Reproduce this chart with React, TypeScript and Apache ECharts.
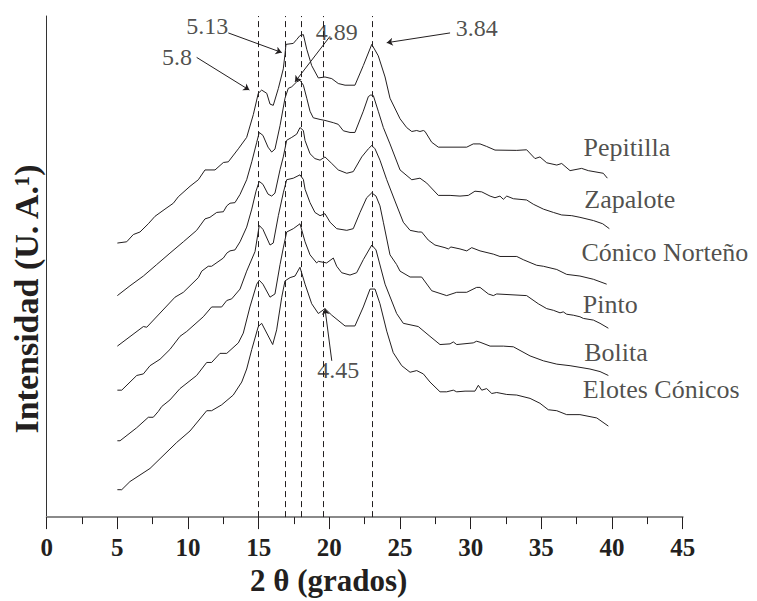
import React, { useEffect, useRef } from "react";
import * as echarts from "echarts";

// 2θ (degrees) vs intensity (arbitrary units, traces stacked with offsets)
const pepitilla: [number, number][] = [
  [5.0, 280], [5.66, 281.3], [6.13, 288.7], [6.6, 291.3], [7.19, 299.7], [7.66, 307.3], [8.37, 314.7],
  [8.96, 320.7], [9.31, 327.3], [10.14, 338], [10.73, 344.7], [11.2, 354.7], [11.91, 354.7], [12.5, 362.3],
  [12.85, 363], [13.56, 376.3], [14.15, 388], [14.62, 411.3], [14.97, 433], [15.21, 436.3], [15.57, 433],
  [15.8, 422], [16.03, 420.7], [16.39, 438], [16.74, 458], [16.86, 473], [16.93, 483], [17.45, 484],
  [17.69, 488], [17.92, 492], [18.16, 493], [18.4, 478], [18.75, 461.3], [19.22, 448.7], [19.69, 449.7],
  [20.17, 448], [20.63, 443], [21.11, 441.3], [21.81, 441.3], [22.4, 461.3], [23.0, 483], [23.46, 471.3],
  [23.94, 449.7], [24.29, 428], [25.0, 407], [25.47, 398], [25.83, 394], [26.18, 395], [26.41, 394],
  [26.65, 395], [26.77, 394], [27.24, 383], [27.71, 378], [29.72, 378], [30.18, 381.3], [30.66, 381.3],
  [31.13, 378.7], [31.72, 375], [33.26, 374.7], [33.96, 375.3], [34.55, 366.3], [34.9, 368], [35.38, 362],
  [36.09, 359.7], [36.44, 361.3], [37.03, 354], [37.85, 356.3], [38.32, 354], [39.38, 351.3], [39.67, 346.3],
];
const zapalote: [number, number][] = [
  [5.0, 226.3], [5.89, 236.3], [6.84, 246.3], [7.78, 258], [8.72, 269.7], [9.67, 281.3], [10.61, 293],
  [11.2, 304.7], [11.55, 306.3], [12.03, 311.3], [12.5, 312], [12.74, 318], [12.97, 320.7], [13.32, 321.3],
  [13.68, 329.7], [14.15, 344.7], [14.51, 363], [14.86, 383], [15.04, 393], [15.3, 390], [15.66, 378],
  [15.92, 373], [16.15, 376], [16.51, 400], [16.86, 428], [17.09, 438], [17.34, 439.7], [17.69, 444.7],
  [17.92, 446.3], [18.16, 441.3], [18.4, 428], [18.63, 414.7], [18.86, 408], [19.34, 406.3], [19.69, 405.3],
  [20.28, 403], [20.63, 401.3], [20.99, 394.7], [21.46, 393], [21.81, 393], [22.4, 414.7], [22.76, 429.7],
  [22.93, 431.3], [23.11, 430.7], [23.46, 414.7], [23.82, 398], [24.29, 381.3], [25.0, 354.7], [25.83, 344.7],
  [26.41, 346.3], [26.89, 341.3], [27.71, 328.7], [28.54, 328.7], [29.24, 328], [29.83, 328.7], [30.3, 333],
  [30.78, 332.3], [31.37, 328], [31.72, 326.3], [32.07, 328], [32.31, 324.7], [32.55, 328], [33.02, 325.3],
  [33.96, 324], [34.43, 319.7], [35.14, 314.7], [35.85, 311.3], [36.44, 308.7], [37.15, 308], [37.73, 306.3],
  [38.68, 303], [39.34, 299.7], [39.81, 294.7],
];
const conicoNorteno: [number, number][] = [
  [5.0, 174.7], [6.84, 194.7], [7.08, 194], [9.08, 224.7], [9.67, 229.7], [10.73, 244.7], [10.97, 251.3],
  [11.43, 256.3], [11.67, 256.3], [12.5, 264.7], [12.74, 269.7], [12.97, 272], [13.32, 273], [13.68, 281.3],
  [14.15, 296.3], [14.51, 314.7], [14.81, 333], [15.04, 343], [15.3, 340], [15.66, 330], [15.92, 328],
  [16.15, 331], [16.51, 355], [16.74, 368], [16.98, 385], [17.34, 388], [17.69, 391.3], [17.92, 398],
  [18.16, 395], [18.28, 384.7], [18.63, 371.3], [18.98, 366.3], [19.34, 364.7], [19.69, 368], [20.17, 361.3],
  [20.63, 354.7], [21.23, 351.3], [21.69, 353], [22.29, 368], [22.76, 376.3], [23.0, 379.7], [23.23, 376.3],
  [23.58, 364.7], [24.06, 344.7], [24.64, 323], [25.23, 301.3], [25.71, 293], [26.29, 291.3], [26.53, 291.3],
  [27.0, 283], [27.47, 278], [28.18, 275.3], [28.42, 274], [28.6, 276], [29.24, 274], [29.72, 272],
  [30.07, 275.3], [30.66, 272], [31.6, 268.7], [32.07, 266.3], [33.26, 266.3], [33.72, 263], [34.67, 257.3],
  [35.14, 256.3], [36.09, 253], [36.79, 248], [37.73, 246.3], [38.68, 243], [39.62, 238],
];
const pinto: [number, number][] = [
  [5.0, 129.7], [5.31, 129.7], [6.37, 144.7], [6.84, 146.3], [7.31, 154.7], [8.02, 161.3], [8.72, 171.3],
  [9.43, 184.7], [9.91, 189.7], [11.08, 204.7], [11.67, 214.7], [12.38, 214.7], [12.74, 221.3], [13.09, 223],
  [13.68, 233], [14.15, 251.3], [14.74, 271.3], [15.04, 298], [15.3, 294], [15.8, 278], [16.03, 280],
  [16.39, 308], [16.74, 331.3], [16.98, 344.7], [17.45, 346.3], [17.92, 349.7], [18.16, 345], [18.28, 335],
  [18.63, 321.3], [18.98, 311.3], [19.34, 308], [19.69, 310], [20.05, 301.3], [20.52, 294.7], [21.23, 293],
  [21.69, 294.7], [22.17, 311.3], [22.64, 326.3], [23.0, 331.3], [23.3, 328], [23.58, 318], [23.82, 301.3],
  [24.29, 268], [24.76, 258], [25.0, 251.3], [25.71, 245.3], [26.53, 245.3], [27.24, 231.3], [28.3, 226.3],
  [29.01, 229.7], [29.72, 229.7], [30.42, 234.7], [30.66, 234.7], [31.25, 228], [31.6, 226.3], [31.84, 228],
  [33.96, 226.3], [34.78, 218], [35.38, 213], [35.85, 211.3], [36.32, 208.7], [36.55, 209.7], [36.79, 207.3],
  [37.26, 206.3], [37.73, 204.7], [37.97, 203], [38.68, 201.3], [39.15, 198], [39.74, 193],
];
const bolita: [number, number][] = [
  [5.0, 78], [5.19, 78], [6.37, 91.3], [7.19, 102], [7.54, 102], [7.9, 108], [8.14, 113], [8.72, 119.7],
  [9.43, 131.3], [10.61, 144.7], [11.32, 158], [11.67, 158], [12.26, 167.3], [12.74, 167.3], [13.56, 178],
  [13.91, 188], [14.38, 214.7], [14.86, 238], [15.04, 242], [15.3, 238], [15.8, 224.7], [16.15, 228],
  [16.51, 258], [16.74, 275], [16.98, 291.3], [17.45, 294.7], [17.92, 299.7], [18.28, 281.3], [18.63, 268],
  [19.1, 259.7], [19.22, 261.3], [19.81, 259.7], [20.28, 264.7], [20.52, 256.3], [20.87, 249.7], [21.46, 247.3],
  [21.93, 249.7], [22.4, 263], [23.0, 278], [23.3, 273], [23.94, 238], [24.76, 208], [25.23, 198],
  [26.29, 194.7], [27.12, 184.7], [27.83, 176.3], [28.54, 177], [28.77, 179], [29.01, 176.3], [30.18, 178],
  [30.42, 179.7], [30.66, 178.7], [31.37, 174.7], [32.31, 174.7], [33.02, 174], [34.2, 164.7], [35.14, 159.7],
  [36.09, 156.3], [37.03, 154.7], [38.44, 151.3], [39.15, 148.7], [39.74, 144.7],
];
const elotesConicos: [number, number][] = [
  [5.0, 28], [5.31, 28], [5.89, 36.3], [7.31, 49.7], [8.02, 59.7], [9.2, 76.3], [10.14, 88], [11.32, 108.7],
  [11.67, 108.7], [12.38, 114.7], [13.2, 124.7], [13.8, 138], [14.15, 151.3], [14.51, 171.3], [14.97, 194.7],
  [15.21, 198], [15.99, 176.3], [16.27, 191.3], [16.63, 224.7], [16.86, 241.3], [17.22, 244.7], [17.57, 246.3],
  [17.92, 255.3], [18.28, 238], [18.75, 218], [19.22, 208], [19.69, 213], [20.17, 206.3], [21.11, 195.3],
  [21.81, 195.3], [22.4, 214.7], [22.88, 233], [23.23, 233], [23.58, 218], [24.06, 190], [24.52, 168],
  [25.12, 154.7], [25.71, 148], [26.18, 149.7], [26.65, 146.3], [27.12, 138], [27.83, 128], [28.3, 128],
  [28.77, 129.7], [29.01, 128], [29.6, 128.7], [30.3, 128.7], [30.54, 134.7], [30.78, 129.7], [31.13, 131.3],
  [31.49, 126.3], [31.84, 127.3], [32.55, 125.3], [33.26, 124.7], [34.2, 121.3], [34.9, 116.3], [35.49, 109.7],
  [36.09, 108.7], [36.79, 104.7], [37.73, 104.7], [38.92, 101.3], [39.74, 93],
];

const traces = [pepitilla, zapalote, conicoNorteno, pinto, bolita, elotesConicos];

// Series names and where their labels sit (x in degrees, y in intensity units)
const seriesNames = ["Pepitilla", "Zapalote", "Cónico Norteño", "Pinto", "Bolita", "Elotes Cónicos"];
const seriesLabelPos: [number, number][] = [
  [37.95, 378], [38.0, 324], [37.8, 270.5], [37.9, 217], [38.0, 168], [37.9, 130],
];

// Reference peak positions (dashed lines), 2θ
const peakLines = [15.0, 16.9, 18.0, 19.6, 23.0];

// d-spacing annotations: label, text position, arrow start, arrow end
const annotLabels = ["5.13", "5.8", "4.89", "3.84", "4.45"];
const annotTextPos: [number, number][] = [
  [11.36, 502], [9.22, 470.5], [20.52, 495.5], [30.43, 500], [20.63, 150],
];
const annotArrowFrom: [number, number][] = [
  [12.85, 494.7], [10.61, 469.7], [20.05, 491.3], [28.54, 494.7], [20.17, 159.7],
];
const annotArrowTo: [number, number][] = [
  [16.63, 474.7], [14.34, 436.3], [17.57, 444.7], [24.06, 484.7], [19.69, 213],
];

const xTicks = { min: 0, max: 45, interval: 5 };

const INK = "#231f20";
const FONT = "'Liberation Serif', 'Times New Roman', serif";

export default function App() {
  const ref = useRef<HTMLDivElement>(null);

  useEffect(() => {
    if (!ref.current) return;
    const chart = echarts.init(ref.current, undefined, { renderer: "svg" });

    const lineSeries = traces.map((d, i) => ({
      type: "line",
      name: seriesNames[i],
      data: d,
      showSymbol: false,
      symbol: "none",
      lineStyle: { color: INK, width: 1 },
      z: 3,
      ...(i === 0
        ? {
            markLine: {
              silent: true,
              symbol: ["none", "none"],
              label: { show: false },
              lineStyle: { color: INK, width: 1, type: [6, 4] },
              data: peakLines.map((x) => ({ xAxis: x })),
            },
          }
        : {}),
    }));

    chart.setOption({
      animation: false,
      grid: { left: 46.7, right: 74.3, top: 16, bottom: 73 },
      xAxis: {
        type: "value",
        min: xTicks.min,
        max: xTicks.max,
        interval: xTicks.interval,
        name: "2 θ (grados)",
        nameLocation: "middle",
        nameGap: 43,
        nameTextStyle: {
          fontFamily: FONT,
          fontWeight: "bold",
          fontSize: 31,
          color: INK,
          padding: [0, 72, 0, 0],
        },
        axisLine: { show: true, lineStyle: { color: "#8a8a8a", width: 2 } },
        axisTick: { show: true, inside: false, length: 12, lineStyle: { color: INK, width: 1 } },
        minorTick: { show: true, splitNumber: 2, length: 7, lineStyle: { color: INK, width: 1 } },
        axisLabel: {
          fontFamily: FONT,
          fontWeight: "bold",
          fontSize: 25,
          color: INK,
          margin: 18,
        },
        splitLine: { show: false },
        minorSplitLine: { show: false },
      },
      yAxis: {
        type: "value",
        min: 0,
        max: 512,
        axisLine: { show: true, onZero: false, lineStyle: { color: "#333333", width: 1 } },
        axisTick: { show: false },
        axisLabel: { show: false },
        splitLine: { show: false },
      },
      graphic: [
        {
          type: "text",
          x: 26,
          y: 299,
          rotation: Math.PI / 2,
          style: {
            text: "Intensidad (U. A.¹)",
            fontFamily: FONT,
            fontWeight: "bold",
            fontSize: 34,
            fill: INK,
            align: "center",
            verticalAlign: "middle",
          },
        },
      ],
      series: [
        ...lineSeries,
        {
          type: "lines",
          coordinateSystem: "cartesian2d",
          polyline: false,
          silent: true,
          symbol: ["none", "arrow"],
          symbolSize: 6,
          lineStyle: { color: INK, width: 1, opacity: 1 },
          data: annotArrowFrom.map((f, i) => ({ coords: [f, annotArrowTo[i]] })),
          z: 4,
        },
        {
          type: "scatter",
          silent: true,
          symbolSize: 1,
          itemStyle: { color: "rgba(0,0,0,0)" },
          data: annotLabels.map((t, i) => ({ name: t, value: annotTextPos[i] })),
          label: {
            show: true,
            position: "inside",
            formatter: "{b}",
            fontFamily: FONT,
            fontSize: 24,
            color: INK,
            textBorderWidth: 0,
          },
          z: 5,
        },
        {
          type: "scatter",
          silent: true,
          symbolSize: 1,
          itemStyle: { color: "rgba(0,0,0,0)" },
          data: seriesNames.map((t, i) => ({ name: t, value: seriesLabelPos[i] })),
          label: {
            show: true,
            position: "right",
            distance: 0,
            formatter: "{b}",
            fontFamily: FONT,
            fontSize: 26,
            color: INK,
            textBorderWidth: 0,
          },
          z: 5,
        },
      ],
    });

    return () => {
      chart.dispose();
    };
  }, []);

  return (
    <div
      ref={ref}
      style={{ position: "fixed", left: 0, top: 0, width: 757, height: 601, background: "#ffffff" }}
    />
  );
}
